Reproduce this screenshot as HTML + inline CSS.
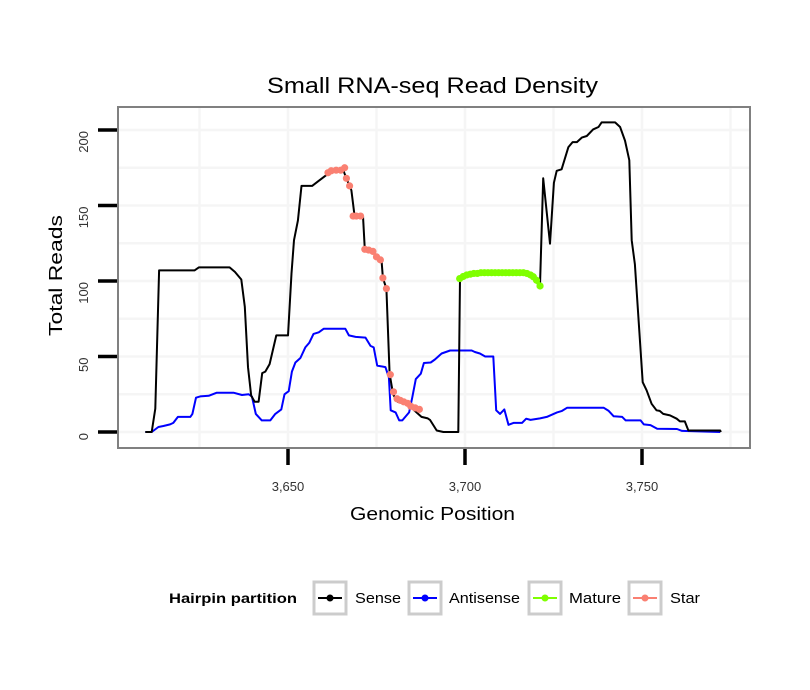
<!DOCTYPE html>
<html><head><meta charset="utf-8"><style>
body{margin:0;background:#fff;}
svg{display:block;font-family:"Liberation Sans",sans-serif;}
</style></head><body>
<svg id="chart" width="810" height="690" viewBox="0 0 810 690">
<rect width="810" height="690" fill="#fff"/>
<g id="grid"></g>
<g id="series"></g>
<rect x="118" y="107" width="632" height="341" fill="none" stroke="#808080" stroke-width="2"/>
<g id="axes"></g>
<text x="267" y="93" font-size="22" textLength="331" lengthAdjust="spacingAndGlyphs" fill="#000">Small RNA-seq Read Density</text>
<text x="350" y="520" font-size="18" textLength="165" lengthAdjust="spacingAndGlyphs" fill="#000">Genomic Position</text>
<text transform="translate(62,336) rotate(-90)" font-size="18" textLength="121" lengthAdjust="spacingAndGlyphs" fill="#000">Total Reads</text>
<g>
<text x="169" y="603" font-size="14" font-weight="bold" textLength="128" lengthAdjust="spacingAndGlyphs">Hairpin partition</text>
<g><rect x="314" y="582" width="32" height="32" fill="#fff" stroke="#ccc" stroke-width="3"/><line x1="318" y1="598" x2="342" y2="598" stroke="#000" stroke-width="2"/><circle cx="330" cy="598" r="3.5" fill="#000"/><text x="355" y="603" font-size="15" textLength="46" lengthAdjust="spacingAndGlyphs">Sense</text></g>
<g><rect x="409" y="582" width="32" height="32" fill="#fff" stroke="#ccc" stroke-width="3"/><line x1="413" y1="598" x2="437" y2="598" stroke="#0000ff" stroke-width="2"/><circle cx="425" cy="598" r="3.5" fill="#0000ff"/><text x="449" y="603" font-size="15" textLength="71" lengthAdjust="spacingAndGlyphs">Antisense</text></g>
<g><rect x="529" y="582" width="32" height="32" fill="#fff" stroke="#ccc" stroke-width="3"/><line x1="533" y1="598" x2="557" y2="598" stroke="#7fff00" stroke-width="2"/><circle cx="545" cy="598" r="3.5" fill="#7fff00"/><text x="569" y="603" font-size="15" textLength="52" lengthAdjust="spacingAndGlyphs">Mature</text></g>
<g><rect x="629" y="582" width="32" height="32" fill="#fff" stroke="#ccc" stroke-width="3"/><line x1="633" y1="598" x2="657" y2="598" stroke="#fa8072" stroke-width="2"/><circle cx="645" cy="598" r="3.5" fill="#fa8072"/><text x="670" y="603" font-size="15" textLength="30" lengthAdjust="spacingAndGlyphs">Star</text></g>
</g>
</svg>
<script>
const senseX=[3609.7,3611.5,3612.5,3613.6,3623.6,3624.8,3633.5,3635,3636.8,3637.8,3638.7,3639.6,3640.6,3641.7,3642.7,3643.6,3644.8,3646.7,3650,3651,3651.7,3652.8,3653.8,3656.8,3658.5,3661.3,3665.5,3666.5,3667.9,3668.8,3671.2,3671.7,3674.5,3676.4,3676.8,3677.8,3678.7,3679.7,3681,3683.9,3687.7,3689.5,3690.1,3692,3693.9,3698.1,3698.6,3701,3704,3716.5,3719.3,3721.2,3722.1,3724,3725.1,3725.9,3727.3,3729.2,3730.4,3731.6,3733,3734.4,3736.2,3737.7,3738.6,3742.4,3743.8,3745.2,3746.4,3747.1,3748,3750.2,3751.3,3752.7,3754.1,3755,3756,3757.9,3759.8,3760.7,3762.1,3763.1,3772.1,3772.3];
const senseY=[0,0,15.5,107,107,109,109,106,101,83,43,24,20,20,39,40,45,64,64,105,127,140,163,163,166,171,174,168,160,143,143,121,118,114,102,95,38.6,25,20,18,10,9,8,1,0,0,101.6,104.5,105.5,105.5,102.8,97,168,124.7,165,173,174,188.7,192,192,195,196,200.4,202,205,205,202,193,180,127,111,33,27.6,18.7,14.4,14,12,11,8.8,7,7,1,1,0];
const antiX=[3609.7,3611.5,3613.4,3614.8,3616.7,3617.6,3618.9,3622.4,3623,3624,3625.2,3627.6,3629.9,3634.6,3637,3638.9,3639.8,3640.9,3642.6,3645,3646.4,3648.1,3649,3650.2,3651.1,3652.1,3653.5,3654.9,3656,3657.2,3658.7,3660.1,3666.2,3667.2,3669.1,3671.9,3673.3,3674.2,3675.2,3677.5,3678.5,3679,3680.4,3681.4,3682.3,3684.2,3685.1,3686.1,3687.5,3688.4,3690.3,3691.5,3693.4,3695.8,3701.9,3702.8,3704.2,3705.7,3708,3708.8,3709.9,3711.1,3712.3,3713.7,3716.1,3717.3,3718.5,3721.2,3723.1,3726,3727.4,3728.8,3739.2,3740.6,3742,3744.4,3745.4,3749.6,3750.5,3752.4,3754.3,3759.9,3761.3,3772.1];
const antiY=[0,0,3.3,4,5,6,10,10,12,22.7,23.6,24,26,26,24.5,25,23.6,12,7.7,7.7,12,15,25,27,40,46,49,56,59,65,66,68.4,68.4,64,63,62.5,57,56,44,43,36,14.4,13,7.7,7.7,13,23,35,38.6,45.7,46,48,52,54,54,53,52,50,50,14.4,12,15,4.8,6,6,8.8,8,9,10,13,14,16,16,14,10.4,10,7.7,7.7,5,4.6,2.2,2,0.7,0];
const matureX=[3698.5,3699.5,3700.5,3701.5,3702.5,3703.5,3704.5,3705.5,3706.5,3707.5,3708.5,3709.5,3710.5,3711.5,3712.5,3713.5,3714.5,3715.5,3716.5,3717.5,3718.5,3719.3,3720.2,3721.2];
const matureY=[101.6,103,104,104.5,105,105,105.5,105.5,105.5,105.5,105.5,105.5,105.5,105.5,105.5,105.5,105.5,105.5,105.5,105,104,102.8,100.5,96.7];
const starX=[3661.3,3662.2,3663.6,3664.9,3666,3666.5,3667.4,3668.4,3669.3,3670.5,3671.7,3672.8,3674,3675,3676.1,3676.8,3677.8,3678.9,3679.8,3680.8,3681.7,3682.7,3683.8,3684.7,3685.9,3687.1];
const starY=[171.7,173,173.4,173.4,175,168,163,143,143,143,121,120.5,119.6,116,114,102,95,38,26.6,22,21,20,19,17,16,15];
const xTicks=[3650,3700,3750];
const xTickLabels=["3,650","3,700","3,750"];
const yTicks=[0,50,100,150,200];
const xMinor=[3625,3675,3725,3775];
const yMinor=[25,75,125,175];
const NS="http://www.w3.org/2000/svg";
function xs(v){return 288+(v-3650)*3.54;}
function ys(v){return 432-v*1.51;}
function mk(tag,attrs,parent){const e=document.createElementNS(NS,tag);for(const k in attrs)e.setAttribute(k,attrs[k]);parent.appendChild(e);return e;}
const grid=document.getElementById('grid'),series=document.getElementById('series'),axes=document.getElementById('axes');
xMinor.concat(xTicks).forEach(v=>{if(xs(v)<750){const l=mk('line',{x1:xs(v),x2:xs(v),y1:108,y2:447,stroke:'#f5f5f5','stroke-width':2.5},grid);

}});
yMinor.concat(yTicks).forEach(v=>{const l=mk('line',{x1:119,x2:749,y1:ys(v),y2:ys(v),stroke:'#f5f5f5','stroke-width':2.5},grid);

});
function path(X,Y,color,w,name){let d='';X.forEach((x,i)=>{d+=(i?'L':'M')+xs(x).toFixed(1)+','+ys(Y[i]).toFixed(1);});
const p=mk('path',{d:d,fill:'none',stroke:color,'stroke-width':w,'stroke-linejoin':'round'},series);

}
function pts(X,Y,color,name){X.forEach((x,i)=>{const c=mk('circle',{cx:xs(x),cy:ys(Y[i]),r:3.6,fill:color},series);

});}
path(antiX,antiY,'#0000ff',2,'antisense-line');
path(senseX,senseY,'#000',2,'sense-line');
path(matureX,matureY,'#7fff00',4,'mature-line');
pts(matureX,matureY,'#7fff00','mature-point');
pts(starX,starY,'#fa8072','star-point');
xTicks.forEach((v,i)=>{const l=mk('line',{x1:xs(v),x2:xs(v),y1:449,y2:465,stroke:'#000','stroke-width':3.5},axes);


const t=mk('text',{x:xs(v),y:491,'text-anchor':'middle','font-size':13,fill:'#333'},axes);t.textContent=xTickLabels[i];

});
yTicks.forEach(v=>{const l=mk('line',{x1:98,x2:117,y1:ys(v),y2:ys(v),stroke:'#000','stroke-width':3.5},axes);


const t=mk('text',{transform:'translate(88,'+(ys(v)+1)+') rotate(-90)','text-anchor':'end','font-size':13,fill:'#333'},axes);t.textContent=String(v);

});
</script>
</body></html>
